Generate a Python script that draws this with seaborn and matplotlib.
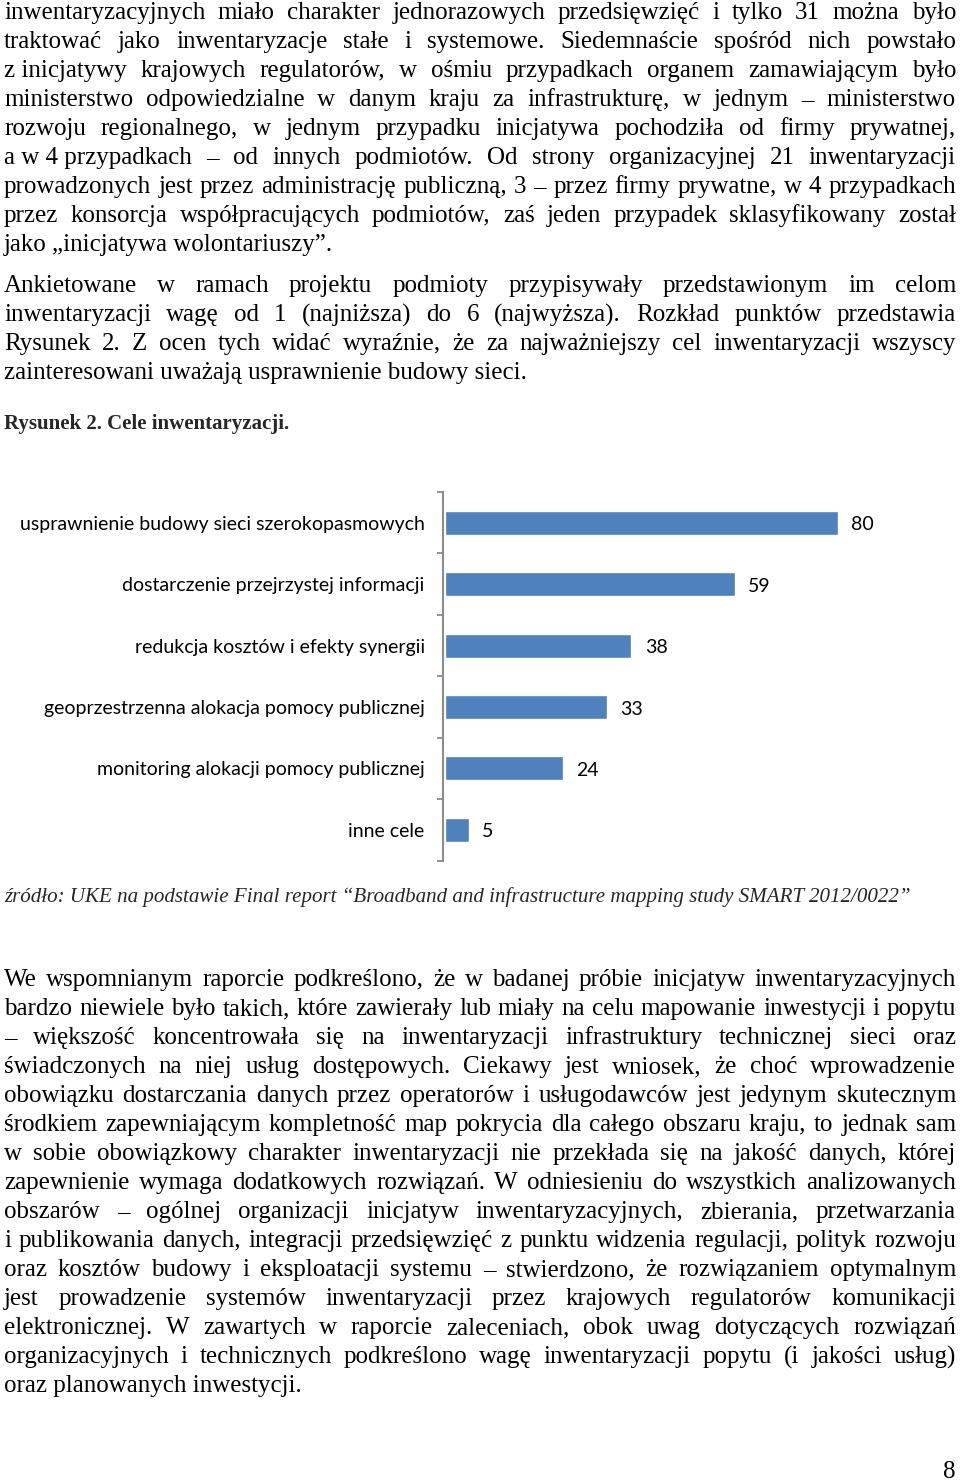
import matplotlib
matplotlib.use("Agg")
import numpy as np
import seaborn as sns
import matplotlib.pyplot as plt

# chart data
categories = [
    "usprawnienie budowy sieci szerokopasmowych",
    "dostarczenie przejrzystej informacji",
    "redukcja kosztów i efekty synergii",
    "geoprzestrzenna alokacja pomocy publicznej",
    "monitoring alokacji pomocy publicznej",
    "inne cele",
]
values = [80, 59, 38, 33, 24, 5]

# page text (NBSP keeps short words glued like in the original)
para1 = [
    "inwentaryzacyjnych miało charakter jednorazowych przedsięwzięć i tylko 31 można było",
    "traktować jako inwentaryzacje stałe i systemowe. Siedemnaście spośród nich powstało",
    "z\u00a0inicjatywy krajowych regulatorów, w ośmiu przypadkach organem zamawiającym było",
    "ministerstwo odpowiedzialne w danym kraju za infrastrukturę, w jednym – ministerstwo",
    "rozwoju regionalnego, w jednym przypadku inicjatywa pochodziła od firmy prywatnej,",
    "a\u00a0w\u00a04\u00a0przypadkach – od innych podmiotów. Od strony organizacyjnej 21 inwentaryzacji",
    "prowadzonych jest przez administrację publiczną, 3 – przez firmy prywatne, w 4 przypadkach",
    "przez konsorcja współpracujących podmiotów, zaś jeden przypadek sklasyfikowany został",
    "jako „inicjatywa wolontariuszy”.",
]
para2 = [
    "Ankietowane w ramach projektu podmioty przypisywały przedstawionym im celom",
    "inwentaryzacji wagę od 1 (najniższa) do 6 (najwyższa). Rozkład punktów przedstawia",
    "Rysunek 2. Z ocen tych widać wyraźnie, że za najważniejszy cel inwentaryzacji wszyscy",
    "zainteresowani uważają usprawnienie budowy sieci.",
]
para3 = [
    "We wspomnianym raporcie podkreślono, że w badanej próbie inicjatyw inwentaryzacyjnych",
    "bardzo niewiele było takich, które zawierały lub miały na celu mapowanie inwestycji i popytu",
    "– większość koncentrowała się na inwentaryzacji infrastruktury technicznej sieci oraz",
    "świadczonych na niej usług dostępowych. Ciekawy jest wniosek, że choć wprowadzenie",
    "obowiązku dostarczania danych przez operatorów i usługodawców jest jedynym skutecznym",
    "środkiem zapewniającym kompletność map pokrycia dla całego obszaru kraju, to jednak sam",
    "w sobie obowiązkowy charakter inwentaryzacji nie przekłada się na jakość danych, której",
    "zapewnienie wymaga dodatkowych rozwiązań. W odniesieniu do wszystkich analizowanych",
    "obszarów – ogólnej organizacji inicjatyw inwentaryzacyjnych, zbierania, przetwarzania",
    "i publikowania danych, integracji przedsięwzięć z punktu widzenia regulacji, polityk rozwoju",
    "oraz kosztów budowy i eksploatacji systemu – stwierdzono, że rozwiązaniem optymalnym",
    "jest prowadzenie systemów inwentaryzacji przez krajowych regulatorów komunikacji",
    "elektronicznej. W zawartych w raporcie zaleceniach, obok uwag dotyczących rozwiązań",
    "organizacyjnych i technicznych podkreślono wagę inwentaryzacji popytu (i jakości usług)",
    "oraz planowanych inwestycji.",
]
caption = "Rysunek 2. Cele inwentaryzacji."
source = "źródło: UKE na podstawie Final report “Broadband and infrastructure mapping study SMART 2012/0022”"

W, H = 960, 1484
LEFT, RIGHT = 4, 956
LINE = 29
BODY = dict(family="Liberation Serif", fontsize=18, color="black")
BAR_COLOR = "#4F81BD"
AXIS_GRAY = "#8C8C8C"

sns.set_theme(style="white")
plt.rcParams["font.family"] = ["Lato", "DejaVu Sans"]

fig = plt.figure(figsize=(W / 100, H / 100), dpi=100)
renderer = fig.canvas.get_renderer()


def draw_line(text, y, justify=True, **kw):
    if not justify:
        fig.text(LEFT / W, 1 - y / H, text, va="center", ha="left", **kw)
        return
    words = text.split(" ")
    items = [fig.text(0, 1 - y / H, w, va="center", ha="left", **kw) for w in words]
    widths = [t.get_window_extent(renderer).width for t in items]
    gap = (RIGHT - LEFT - sum(widths)) / (len(words) - 1)
    x = LEFT
    for t, w in zip(items, widths):
        t.set_x(x / W)
        x += w + gap


def draw_paragraph(lines, y0):
    for i, line in enumerate(lines):
        draw_line(line, y0 + i * LINE, justify=(i < len(lines) - 1), **BODY)


draw_paragraph(para1, 13)
draw_paragraph(para2, 286)
draw_paragraph(para3, 980)

fig.text(LEFT / W, 1 - 424 / H, caption, va="center", ha="left",
         family="Liberation Serif", fontsize=15, fontweight="bold")
fig.text(LEFT / W, 1 - 897 / H, source, va="center", ha="left",
         family="Liberation Serif", fontsize=15.1, style="italic")
fig.text(956 / W, 1 - 1472 / H, "8", va="center", ha="right", **BODY)

# bar chart
ax = fig.add_axes([442.7 / W, 1 - 860.5 / H, 492 / W, 368.5 / H])
sns.barplot(x=values, y=categories, orient="h", color=BAR_COLOR,
            saturation=1, width=0.39, ax=ax)
ax.set_xlim(-0.37, 99.63)
ax.set_ylim(5.5, -0.5)
ax.set(xlabel="", ylabel="")
ax.set_xticks([])
sns.despine(ax=ax, top=True, right=True, bottom=True, left=False)
ax.spines["left"].set_color(AXIS_GRAY)
ax.spines["left"].set_linewidth(1.5)
ax.set_yticks(np.arange(-0.5, 6, 1), minor=True)
ax.tick_params(axis="y", which="major", length=0, pad=13, labelsize=14,
               labelcolor="black")
ax.tick_params(axis="y", which="minor", left=True, length=4, width=1.3,
               color=AXIS_GRAY)
labels = ax.bar_label(ax.containers[0], padding=9.5, fontsize=14, color="black")
for t in labels:
    dx, dy = t.xyann
    t.xyann = (dx, dy - 1.5)
ax.patch.set_alpha(0)

fig.savefig("out.png", dpi=100, facecolor="white")
